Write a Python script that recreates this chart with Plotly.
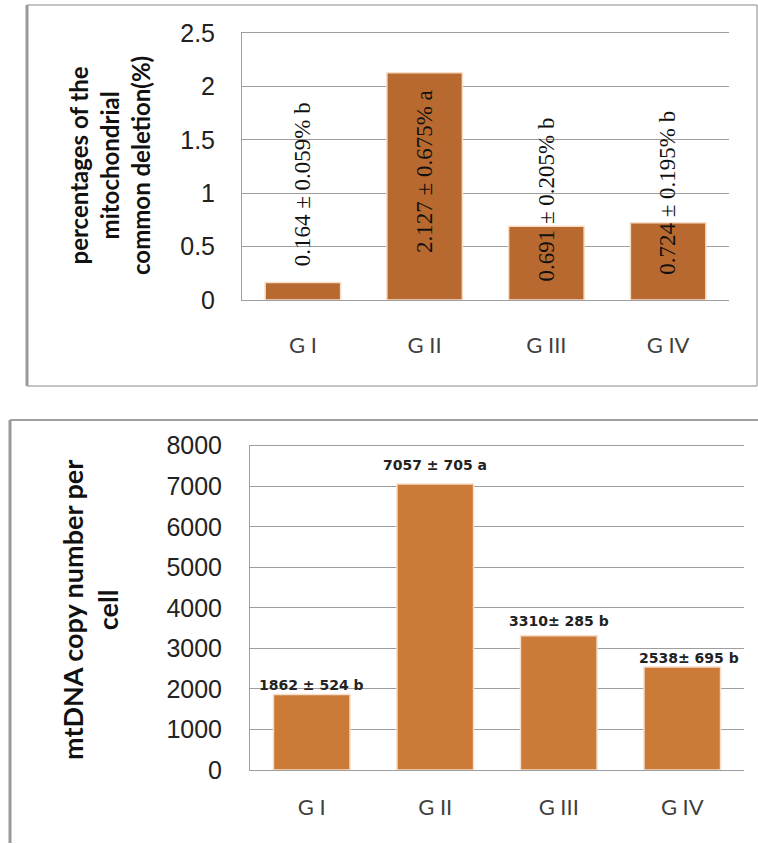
import plotly.graph_objects as go

W, H = 758, 844

groups = ["G I", "G II", "G III", "G IV"]
deletion_pct = [0.164, 2.127, 0.691, 0.724]
deletion_labels = ["0.164 ± 0.059% b", "2.127 ± 0.675% a", "0.691 ± 0.205% b", "0.724 ± 0.195% b"]
copy_number = [1862, 7057, 3310, 2538]
copy_labels = ["1862 ± 524 b", "7057 ± 705 a", "3310± 285 b", "2538± 695 b"]
top_ticks = [0, 0.5, 1, 1.5, 2, 2.5]
top_ticktext = ["0", "0.5", "1", "1.5", "2", "2.5"]
bottom_ticks = [0, 1000, 2000, 3000, 4000, 5000, 6000, 7000, 8000]


def px(x):
    return x / W


def py(y):
    return 1 - y / H


fig = go.Figure()

fig.add_trace(go.Bar(
    x=groups, y=deletion_pct, xaxis="x", yaxis="y",
    marker=dict(color="#B8692F", line=dict(color="#F6DEC8", width=1.5)),
    width=0.62, showlegend=False, hoverinfo="skip",
))
fig.add_trace(go.Bar(
    x=groups, y=copy_number, xaxis="x2", yaxis="y2",
    marker=dict(color="#CC7A38", line=dict(color="#F6DEC8", width=1.5)),
    width=0.62, showlegend=False, hoverinfo="skip",
))

grid = "#9E9E9E"
tickfont = dict(family="Liberation Sans, Arial, sans-serif", size=25, color="#222222")
xtickfont = dict(family="Lato, sans-serif", size=22, color="#404040")

fig.update_layout(
    template="none",
    width=W, height=H,
    margin=dict(l=0, r=0, t=0, b=0, pad=0),
    paper_bgcolor="white", plot_bgcolor="white",
    showlegend=False,
    xaxis=dict(domain=[px(242), px(729)], anchor="y", range=[-0.5, 3.5], automargin=False,
               showgrid=False, showline=True, mirror=True, linecolor=grid, linewidth=1,
               zeroline=False, tickfont=xtickfont, ticks="", ticklabelstandoff=26),
    yaxis=dict(domain=[py(300), py(33)], anchor="x", range=[0, 2.5], automargin=False,
               tickvals=top_ticks, ticktext=top_ticktext,
               showgrid=True, gridcolor=grid, gridwidth=1,
               showline=True, linecolor=grid, linewidth=1,
               zeroline=False, tickfont=tickfont, ticks="", ticklabelstandoff=21),
    xaxis2=dict(domain=[px(250), px(744)], anchor="y2", range=[-0.5, 3.5], automargin=False,
                showgrid=False, showline=True, mirror=True, linecolor=grid, linewidth=1,
                zeroline=False, tickfont=xtickfont, ticks="", ticklabelstandoff=18),
    yaxis2=dict(domain=[py(770), py(445.7)], anchor="x2", range=[0, 8000], automargin=False,
                tickvals=bottom_ticks,
                showgrid=True, gridcolor=grid, gridwidth=1,
                showline=True, linecolor=grid, linewidth=1,
                zeroline=False, tickfont=tickfont, ticks="", ticklabelstandoff=22),
)

annotations = []
# axis titles
annotations.append(dict(
    xref="paper", yref="paper", x=px(110), y=py(166), xanchor="center", yanchor="middle",
    text="<b>percentages of the<br>mitochondrial<br>common deletion(%)</b>", textangle=-90,
    showarrow=False, font=dict(family="Lato, sans-serif", size=24, color="#111111"),
))
annotations.append(dict(
    xref="paper", yref="paper", x=px(90), y=py(610), xanchor="center", yanchor="middle",
    text="<b>mtDNA copy number per<br>cell</b>", textangle=-90,
    showarrow=False, font=dict(family="Lato, sans-serif", size=27, color="#111111"),
))

# top value labels (rotated)
top_offsets = [("bottom", 14), ("top", -15), ("bottom", -57), ("bottom", -54)]
for g, v, lab, (anc, sh) in zip(groups, deletion_pct, deletion_labels, top_offsets):
    annotations.append(dict(
        xref="x", yref="y", x=g, y=v, xanchor="center", yanchor=anc, yshift=sh,
        text=lab, textangle=-90, showarrow=False,
        font=dict(family="Liberation Serif, Times New Roman, serif", size=23, color="#111111"),
    ))

# bottom value labels
bottom_offsets = [(0, 9), (0, 18), (0, 14), (7, 8)]
for g, v, lab, (xs, ys) in zip(groups, copy_number, copy_labels, bottom_offsets):
    annotations.append(dict(
        xref="x2", yref="y2", x=g, y=v, xanchor="center", yanchor="bottom", yshift=ys - 9,
        xshift=xs, text="<b>" + lab + "</b>", showarrow=False,
        font=dict(family="DejaVu Sans, Verdana, sans-serif", size=14, color="#222222"),
    ))

fig.update_layout(annotations=annotations)

# panel frames
shapes = [
    dict(type="line", xref="paper", yref="paper", x0=px(27), x1=px(757), y0=py(5), y1=py(5),
         line=dict(color="#B0B0B0", width=1.5)),
    dict(type="line", xref="paper", yref="paper", x0=px(27), x1=px(757), y0=py(386), y1=py(386),
         line=dict(color="#B0B0B0", width=1.5)),
    dict(type="line", xref="paper", yref="paper", x0=px(757), x1=px(757), y0=py(5), y1=py(386),
         line=dict(color="#B0B0B0", width=1.5)),
    dict(type="line", xref="paper", yref="paper", x0=px(27), x1=px(27), y0=py(5), y1=py(386),
         line=dict(color="#9A9A9A", width=3)),
    dict(type="line", xref="paper", yref="paper", x0=px(10), x1=px(758), y0=py(420), y1=py(420),
         line=dict(color="#A0A0A0", width=2)),
    dict(type="line", xref="paper", yref="paper", x0=px(10), x1=px(10), y0=py(420), y1=py(843),
         line=dict(color="#9A9A9A", width=3)),
]
fig.update_layout(shapes=shapes)

fig.write_html("out.html", config={"displayModeBar": False},
               post_script="document.body.style.margin='0';")
